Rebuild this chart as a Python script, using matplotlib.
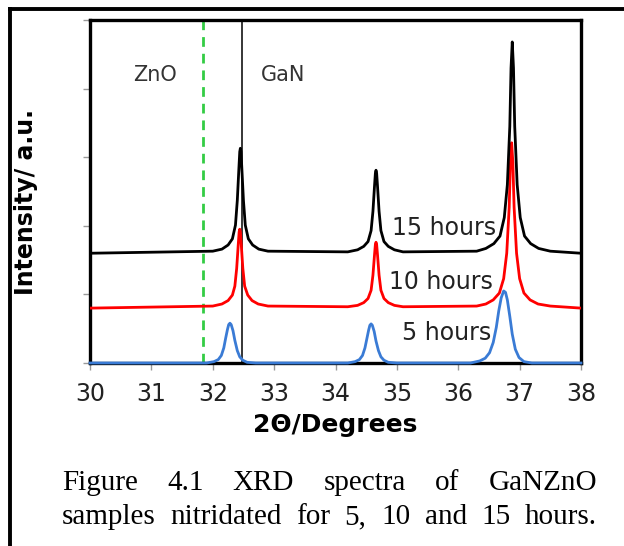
import matplotlib
matplotlib.use("Agg")
import matplotlib.pyplot as plt
from matplotlib.lines import Line2D

# --------------------------------------------
# DATA
# --------------------------------------------
x_15h = [30.0,
         32.0, 32.15, 32.25, 32.32, 32.37, 32.40, 32.425, 32.44, 32.45, 32.46, 32.475, 32.50, 32.53,
         32.58, 32.65, 32.75, 32.9,
         34.2, 34.36, 34.46, 34.53, 34.58, 34.61, 34.635, 34.65, 34.66, 34.67, 34.685, 34.71, 34.74,
         34.79, 34.86, 34.96, 35.1,
         36.3, 36.45, 36.58, 36.68, 36.75, 36.80, 36.84, 36.86, 36.88, 36.90, 36.92, 36.96, 37.01,
         37.08, 37.18, 37.31, 37.5,
         38.0]
y_15h = [1.60,
         1.63, 1.66, 1.72, 1.81, 2.01, 2.37, 2.82, 3.08, 3.13, 3.08, 2.82, 2.37, 2.01,
         1.81, 1.72, 1.66, 1.63,
         1.62, 1.65, 1.70, 1.77, 1.93, 2.21, 2.57, 2.77, 2.81, 2.77, 2.57, 2.21, 1.93,
         1.77, 1.70, 1.65, 1.62,
         1.63, 1.67, 1.74, 1.85, 2.12, 2.60, 3.45, 4.30, 4.68, 4.30, 3.45, 2.60, 2.12,
         1.85, 1.74, 1.67, 1.63,
         1.60]

x_10h = [30.0,
         32.0, 32.15, 32.25, 32.32, 32.36, 32.39, 32.415, 32.43, 32.44, 32.45, 32.465, 32.49, 32.52,
         32.57, 32.64, 32.74, 32.9,
         34.2, 34.36, 34.46, 34.53, 34.58, 34.61, 34.635, 34.65, 34.66, 34.67, 34.685, 34.71, 34.74,
         34.79, 34.86, 34.96, 35.1,
         36.3, 36.45, 36.57, 36.67, 36.74, 36.79, 36.83, 36.85, 36.87, 36.89, 36.91, 36.95, 37.0,
         37.07, 37.17, 37.3, 37.5,
         38.0]
y_10h = [0.80,
         0.83, 0.86, 0.91, 0.99, 1.12, 1.38, 1.72, 1.91, 1.95, 1.91, 1.72, 1.38, 1.12,
         0.99, 0.91, 0.86, 0.83,
         0.82, 0.84, 0.88, 0.94, 1.06, 1.28, 1.57, 1.73, 1.76, 1.73, 1.57, 1.28, 1.06,
         0.94, 0.88, 0.84, 0.82,
         0.83, 0.86, 0.92, 1.02, 1.23, 1.60, 2.27, 2.92, 3.21, 2.92, 2.27, 1.60, 1.23,
         1.02, 0.92, 0.86, 0.83,
         0.80]

x_5h = [30.0,
        31.9, 32.02, 32.09, 32.14, 32.18, 32.21, 32.24, 32.26, 32.28, 32.30, 32.33, 32.36, 32.40,
        32.44, 32.49, 32.56, 32.7,
        34.2, 34.32, 34.39, 34.44, 34.48, 34.51, 34.54, 34.56, 34.58, 34.60, 34.63, 34.66, 34.70,
        34.74, 34.79, 34.86, 35.0,
        36.2, 36.35, 36.44, 36.51, 36.57, 36.62, 36.66, 36.70, 36.74, 36.77, 36.80, 36.84, 36.88,
        36.93, 36.99, 37.07, 37.2,
        38.0]
y_5h = [0.0,
        0.0, 0.02, 0.05, 0.11, 0.22, 0.36, 0.49, 0.56, 0.58, 0.56, 0.47, 0.33, 0.18,
        0.09, 0.04, 0.01, 0.0,
        0.0, 0.02, 0.05, 0.11, 0.22, 0.35, 0.48, 0.55, 0.57, 0.55, 0.46, 0.32, 0.18,
        0.09, 0.04, 0.01, 0.0,
        0.0, 0.03, 0.07, 0.15, 0.30, 0.52, 0.76, 0.95, 1.05, 1.03, 0.92, 0.68, 0.42,
        0.20, 0.08, 0.02, 0.0,
        0.0]

series_labels = ["15 hours", "10 hours", "5 hours"]
label_pos = [(35.77, 1.97), (35.72, 1.18), (35.81, 0.44)]

zno_pos = 31.84
gan_pos = 32.47

x_ticks = [30, 31, 32, 33, 34, 35, 36, 37, 38]
y_ticks = [0, 1, 2, 3, 4, 5]

caption = ["Figure 4.1 XRD spectra of GaNZnO",
           "samples nitridated for 5, 10 and 15 hours."]

# --------------------------------------------
# PLOT
# --------------------------------------------
W, H = 624, 546
fig = plt.figure(figsize=(W / 100, H / 100), dpi=100)
ax = fig.add_axes([90 / W, 1 - 363 / H, 491 / W, 343 / H])

ax.axvline(zno_pos, color="#33cc44", lw=2.0, ls=(0, (3.5, 2.5)), zorder=1)
ax.axvline(gan_pos, color="black", lw=1.1, zorder=1)

kw = dict(lw=2.0, solid_joinstyle="round", zorder=3)
ax.plot(x_5h, y_5h, color="#3a7bd5", clip_on=False, **kw)
ax.plot(x_10h, y_10h, color="#ff0000", **kw)
ax.plot(x_15h, y_15h, color="black", **kw)

for lab, (lx, ly) in zip(series_labels, label_pos):
    ax.text(lx, ly, lab, fontsize=17, color="#222222", va="center", ha="center", zorder=4)

ax.text(31.06, 4.2, "ZnO", fontsize=15, color="#333333", ha="center", va="center")
ax.text(33.14, 4.2, "GaN", fontsize=15, color="#333333", ha="center", va="center")

ax.set_xlim(30, 38)
ax.set_ylim(0, 5)
ax.set_xticks(x_ticks)
ax.set_yticks(y_ticks)
ax.set_yticklabels([])
ax.tick_params(axis="both", direction="out", length=5, width=1, color="#999999",
               labelsize=17, labelcolor="#222222", pad=9)
for s in ax.spines.values():
    s.set_linewidth(2.4)
    s.set_color("black")

ax.set_xlabel("2\u0398/Degrees", fontsize=18, fontweight="bold", labelpad=5)
ax.set_ylabel("Intensity/ a.u.", fontsize=17, fontweight="bold")
ax.yaxis.set_label_coords(-0.106, 0.47)

# outer frame of the cut-out
fig.add_artist(Line2D([10 / W, 10 / W], [0, 1 - 9 / H], transform=fig.transFigure,
                      color="black", lw=2.8, solid_capstyle="projecting"))
fig.add_artist(Line2D([10 / W, 1], [1 - 9 / H, 1 - 9 / H], transform=fig.transFigure,
                      color="black", lw=2.8, solid_capstyle="projecting"))

# justified caption
renderer = fig.canvas.get_renderer()
x0, x1 = 62, 597
for line, base in zip(caption, [490, 524]):
    words = line.split()
    texts = [fig.text(0, 1 - base / H, w, fontsize=21, family="Liberation Serif",
                      va="baseline", ha="left") for w in words]
    widths = [t.get_window_extent(renderer).width for t in texts]
    gap = (x1 - x0 - sum(widths)) / (len(words) - 1)
    pos = x0
    for t, wd in zip(texts, widths):
        t.set_x(pos / W)
        pos += wd + gap

fig.savefig("out.png", dpi=100)
